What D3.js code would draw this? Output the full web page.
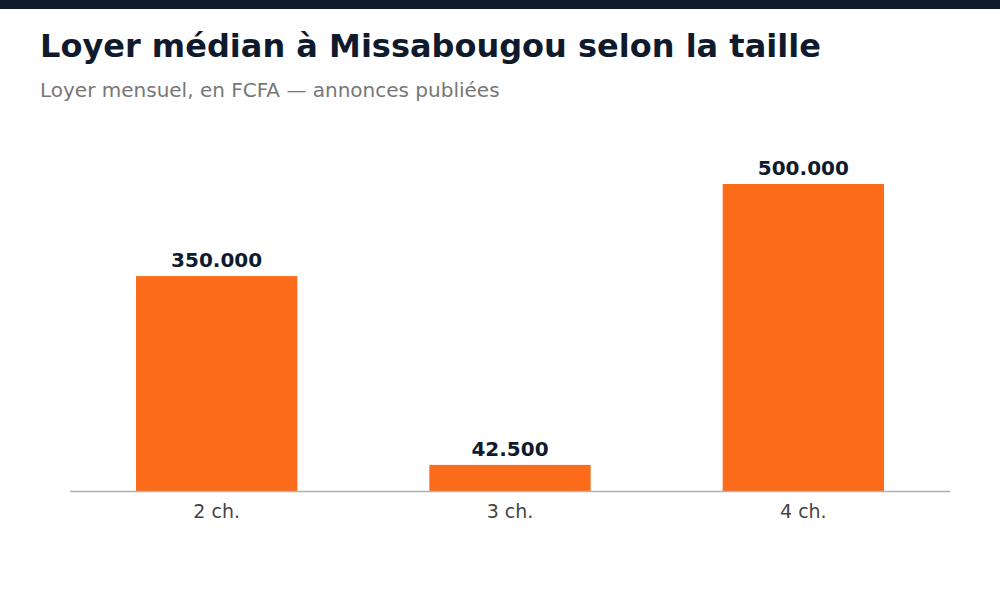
<!DOCTYPE html>
<html>
<head>
<meta charset="utf-8">
<script src="https://cdn.jsdelivr.net/npm/d3@7"></script>
<style>
  body { margin: 0; background: #fff; }
  text { font-family: "DejaVu Sans", sans-serif; }
</style>
</head>
<body>
<div id="chart"></div>
<script>
const categories = ["2 ch.", "3 ch.", "4 ch."];
const values = [350000, 42500, 500000];
const title = "Loyer médian à Missabougou selon la taille";
const subtitle = "Loyer mensuel, en FCFA — annonces publiées";

const width = 1000, height = 600;
const margin = { left: 70, right: 50, bottom: 109 };
const baseline = height - margin.bottom;

const svg = d3.select("#chart").append("svg")
    .attr("width", width)
    .attr("height", height);

// top band
svg.append("rect")
    .attr("x", 0).attr("y", 0)
    .attr("width", width).attr("height", 9)
    .attr("fill", "#0f1b2d");

svg.append("text")
    .attr("x", 40).attr("y", 57)
    .attr("font-size", 32)
    .attr("font-weight", "bold")
    .attr("fill", "#0f1b2d")
    .text(title);

svg.append("text")
    .attr("x", 40).attr("y", 97)
    .attr("font-size", 20)
    .attr("fill", "#777")
    .text(subtitle);

const x = d3.scaleBand()
    .domain(categories)
    .range([margin.left, width - margin.right])
    .paddingInner(0.45)
    .paddingOuter(0.225);

const y = d3.scaleLinear()
    .domain([0, d3.max(values) * 1.1])
    .range([baseline, 153.3]);

const fmt = v => d3.format(",")(v).replace(/,/g, ".");

const data = categories.map((c, i) => ({ cat: c, value: values[i] }));

svg.selectAll("rect.bar")
    .data(data)
    .join("rect")
    .attr("class", "bar")
    .attr("x", d => x(d.cat))
    .attr("y", d => y(d.value))
    .attr("width", x.bandwidth())
    .attr("height", d => baseline - y(d.value))
    .attr("fill", "#fc6b1a");

svg.selectAll("text.val")
    .data(data)
    .join("text")
    .attr("class", "val")
    .attr("x", d => x(d.cat) + x.bandwidth() / 2)
    .attr("y", d => y(d.value) - 9)
    .attr("text-anchor", "middle")
    .attr("font-size", 20)
    .attr("font-weight", "bold")
    .attr("fill", "#0f1b2d")
    .text(d => fmt(d.value));

svg.append("line")
    .attr("x1", margin.left).attr("x2", width - margin.right)
    .attr("y1", baseline + 0.5).attr("y2", baseline + 0.5)
    .attr("stroke", "#b0b0b0")
    .attr("stroke-width", 1.5);

svg.selectAll("text.cat")
    .data(data)
    .join("text")
    .attr("class", "cat")
    .attr("x", d => x(d.cat) + x.bandwidth() / 2)
    .attr("y", baseline + 27)
    .attr("text-anchor", "middle")
    .attr("font-size", 19)
    .attr("fill", "#444")
    .text(d => d.cat);
</script>
</body>
</html>
